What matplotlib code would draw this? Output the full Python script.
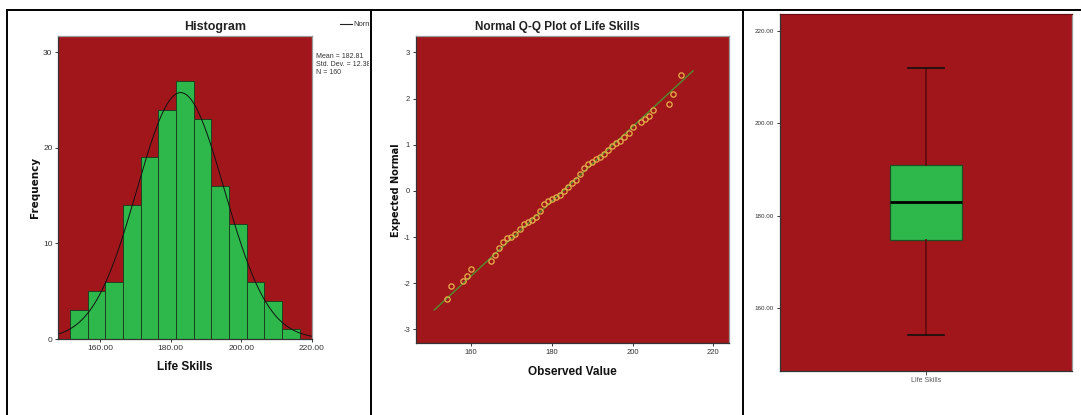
import numpy as np
import matplotlib
matplotlib.use("Agg")
import matplotlib.pyplot as plt
from matplotlib.lines import Line2D
from matplotlib.transforms import Bbox, TransformedBbox

plt.rcParams['font.family'] = ['Liberation Sans Narrow', 'Liberation Sans', 'DejaVu Sans']
plt.rcParams['axes.unicode_minus'] = False

# ---- data ----
bin_edges = [151.5, 156.5, 161.5, 166.5, 171.5, 176.5, 181.5, 186.5,
             191.5, 196.5, 201.5, 206.5, 211.5, 216.5]
counts = [3, 5, 6, 14, 19, 24, 27, 23, 16, 12, 6, 4, 1]
mean_val = 182.81
sd_val = 12.38
n_val = 160

qq_obs = [154, 155, 158, 159, 160, 165, 166, 167, 168, 169, 170, 171, 172,
          173, 174, 175, 176, 177, 178, 179, 180, 181, 182, 183, 184, 185,
          186, 187, 188, 189, 190, 191, 192, 193, 194, 195, 196, 197, 198,
          199, 200, 202, 203, 204, 205, 209, 210, 212]
qq_exp = [-2.34, -2.06, -1.95, -1.84, -1.69, -1.52, -1.38, -1.23, -1.10,
          -1.03, -0.99, -0.93, -0.82, -0.71, -0.67, -0.63, -0.57, -0.44,
          -0.29, -0.21, -0.18, -0.14, -0.08, 0.00, 0.09, 0.16, 0.23, 0.36,
          0.49, 0.58, 0.63, 0.68, 0.74, 0.80, 0.88, 0.97, 1.04, 1.09, 1.16,
          1.25, 1.39, 1.50, 1.56, 1.63, 1.76, 1.88, 2.09, 2.51]
qq_line_x = [150.9, 215.0]

box_stats = {'whislo': 154.0, 'q1': 174.7, 'med': 183.0, 'q3': 191.0, 'whishi': 212.0}
box_label = "Life Skills"

RED = '#A1161B'
GREEN = '#2EB84B'

fig = plt.figure(figsize=(10.81, 4.15), dpi=100)


def style_axes(ax, tick_fs):
    ax.set_facecolor(RED)
    for s in ['left', 'bottom']:
        ax.spines[s].set_color('#333333')
        ax.spines[s].set_linewidth(0.9)
    for s in ['top', 'right']:
        ax.spines[s].set_color('#9a9a9a')
        ax.spines[s].set_linewidth(0.9)
    ax.tick_params(direction='out', length=2.5, width=0.7, colors='#333333',
                   labelsize=tick_fs, pad=1.5)


###Histogram
ax1 = fig.add_axes([0.0537, 0.1831, 0.2349, 0.7302])
style_axes(ax1, 6)
ax1.bar(bin_edges[:-1], counts, width=np.diff(bin_edges), align='edge',
        color=GREEN, edgecolor='#1f3f1f', linewidth=0.7)
xs = np.linspace(148, 220, 300)
binw = bin_edges[1] - bin_edges[0]
ys = n_val * binw / (sd_val * np.sqrt(2 * np.pi)) * np.exp(-0.5 * ((xs - mean_val) / sd_val) ** 2)
ax1.plot(xs, ys, color='#111111', lw=0.7)
ax1.set_xlim(148.1, 220)
ax1.set_ylim(0, 31.7)
ax1.set_xticks([160, 180, 200, 220])
ax1.set_xticklabels(["160.00", "180.00", "200.00", "220.00"])
ax1.set_yticks([0, 10, 20, 30])
fig.text(0.1989, 0.935, "Histogram", ha='center', va='center', fontsize=9, weight='bold', color='#222222')
fig.text(0.0324, 0.549, "Frequency", ha='center', va='center', rotation=90, fontsize=7.5,
         weight='bold', family='DejaVu Sans', color='#111111')
fig.text(0.1711, 0.1157, "Life Skills", ha='center', va='center', fontsize=8.5, weight='bold', color='#111111')

# legend / stats text, clipped at the panel border
clip = TransformedBbox(Bbox([[0, 0], [368.5 / 1081, 1]]), fig.transFigure)
fig.add_artist(Line2D([340 / 1081, 352 / 1081], [1 - 24 / 415] * 2, color='#222222', lw=0.8))
t = fig.text(353 / 1081, 1 - 24 / 415, "Normal", ha='left', va='center', fontsize=5.5, color='#333333')
t.set_clip_box(clip)
t.set_clip_on(True)
for i, s in enumerate(["Mean = 182.81", "Std. Dev. = 12.383", "N = 160"]):
    t = fig.text(316 / 1081, 1 - (56 + 8 * i) / 415, s, ha='left', va='center', fontsize=5, color='#333333')
    t.set_clip_box(clip)
    t.set_clip_on(True)

###Q-Q plot
ax2 = fig.add_axes([0.3846, 0.1728, 0.2898, 0.7412])
style_axes(ax2, 5.5)
lx = np.array(qq_line_x)
ax2.plot(lx, (lx - mean_val) / sd_val, color='#4F8F2F', lw=1.0, zorder=2)
ax2.plot(qq_obs, qq_exp, 'o', ms=3.8, mfc='none', mec='#E8B04A', mew=0.9, zorder=3)
ax2.set_xlim(146.3, 223.9)
ax2.set_ylim(-3.30, 3.36)
ax2.set_xticks([160, 180, 200, 220])
ax2.set_yticks([-3, -2, -1, 0, 1, 2, 3])
fig.text(557.7 / 1081, 1 - 26.7 / 415, "Normal Q-Q Plot of Life Skills", ha='center', va='center',
         fontsize=8.5, weight='bold', color='#222222')
fig.text(396 / 1081, 1 - 190 / 415, "Expected Normal", ha='center', va='center', rotation=90,
         fontsize=7, weight='bold', family='DejaVu Sans', color='#111111')
fig.text(572.3 / 1081, 1 - 371.7 / 415, "Observed Value", ha='center', va='center',
         fontsize=8.5, weight='bold', color='#111111')

###Boxplot
ax3 = fig.add_axes([0.7213, 0.106, 0.2704, 0.8603])
style_axes(ax3, 4.5)
ax3.spines['top'].set_color('#6a0e10')
st = dict(box_stats)
st['label'] = box_label
ax3.bxp([st], positions=[1], widths=0.2476, capwidths=0.123, showfliers=False,
        patch_artist=True,
        boxprops=dict(facecolor=GREEN, edgecolor='#1c4f24', linewidth=0.9),
        medianprops=dict(color='#000000', linewidth=2.0),
        whiskerprops=dict(color='#5e0b0e', linewidth=1.2),
        capprops=dict(color='#111111', linewidth=1.2))
ax3.set_xlim(0.5, 1.5)
ax3.set_ylim(146.2, 223.8)
ax3.set_yticks([160, 180, 200, 220])
ax3.set_yticklabels(["160.00", "180.00", "200.00", "220.00"])
ax3.tick_params(axis='x', length=3, colors='#555555', labelsize=5, pad=1.5)

###Page borders
top_y = 1 - 10 / 415
fig.add_artist(Line2D([7 / 1081, 1], [top_y, top_y], color='black', lw=1.4))
for xp in [7.5, 370.5, 742.5]:
    fig.add_artist(Line2D([xp / 1081, xp / 1081], [0, top_y], color='black', lw=1.4))

plt.savefig("out.png", dpi=100)
